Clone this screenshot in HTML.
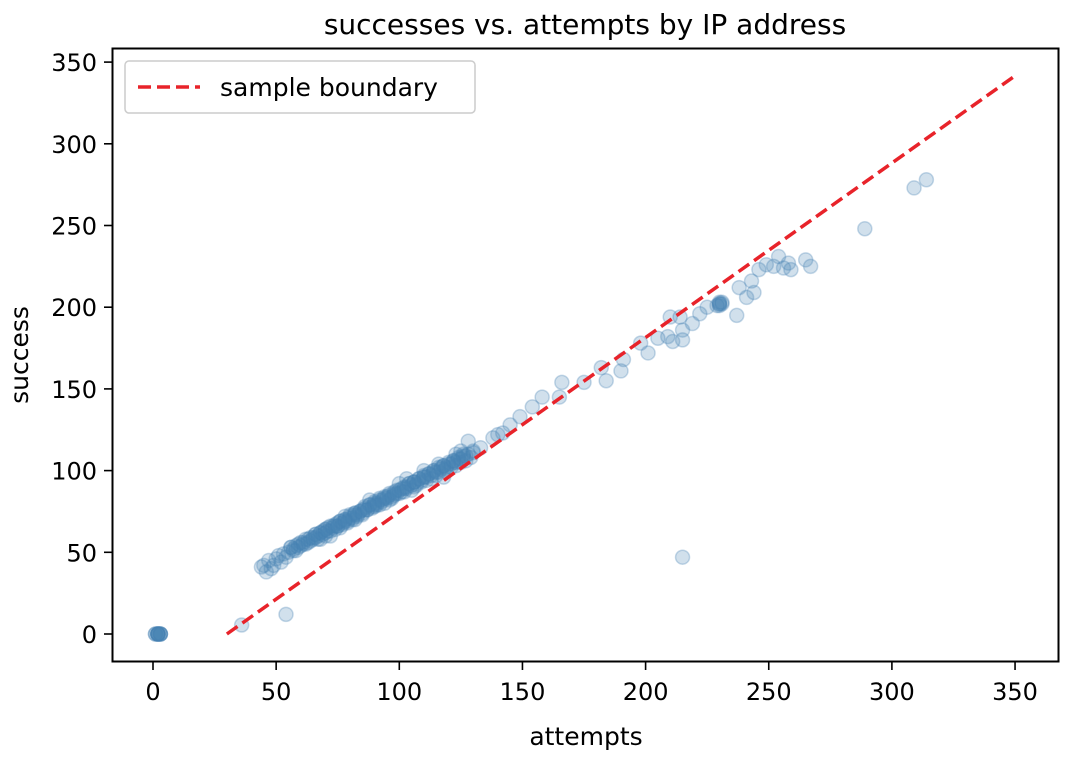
<!DOCTYPE html>
<html><head><meta charset="utf-8"><style>
body{margin:0;background:#fff;}
svg{display:block;font-family:"DejaVu Sans","Liberation Sans",sans-serif;}
</style></head><body>
<svg id="chart" width="1068" height="760">
<text x="585" y="34" font-size="28" text-anchor="middle" fill="#000">successes vs. attempts by IP address</text>
<g id="points"></g>
<g id="line"></g>
<rect x="112.5" y="48.5" width="946" height="613" fill="none" stroke="#000" stroke-width="2"/>
<g id="xt"></g><g id="yt"></g>
<text x="586" y="745" font-size="25" text-anchor="middle">attempts</text>
<text transform="translate(28,355) rotate(-90)" font-size="25" text-anchor="middle">success</text>
<g>
<rect x="125" y="61" width="350" height="52" rx="4" fill="#fff" fill-opacity="0.8" stroke="#ccc" stroke-width="1.5"/>
<line x1="138" y1="87" x2="200" y2="87" stroke="#e8232a" stroke-width="3.5" stroke-dasharray="13,6"/>
<text x="220" y="96" font-size="25">sample boundary</text>
</g>
</svg>
<script>
const xTicks=[0,50,100,150,200,250,300,350];
const yTicks=[0,50,100,150,200,250,300,350];
const boundaryX=[30,350];
const boundaryY=[0,341.6];
const attempts=[1,2,3,2,3,1,2,3,2,3,2,2,36,54,215,289,309,314,
45,47,48,50,51,52,53,55,56,57,58,60,61,62,63,64,65,66,67,68,69,70,70,71,72,73,74,75,75,76,77,78,78,79,80,80,81,82,83,84,85,85,86,87,88,89,90,90,91,92,93,94,95,96,97,98,99,100,101,102,103,104,105,106,107,108,109,110,111,112,113,114,115,116,117,118,119,120,121,122,123,124,125,126,127,128,129,130,128,125,123,68,72,59,54,88,92,100,103,96,116,118,110,106,76,82,46,44,49,
56,58,60,62,64,66,68,70,72,74,76,78,80,82,84,86,88,90,92,94,96,98,100,102,104,106,108,110,112,114,116,118,120,122,124,126,
57,59,61,63,65,67,69,71,73,75,77,79,81,83,85,87,89,91,93,95,97,99,101,103,105,107,109,111,113,115,117,119,121,123,125,127,
66,70,74,78,82,86,90,94,98,102,106,110,114,118,122,126,
142,138,145,133,140,130,149,158,154,
166,165,175,182,184,190,191,198,201,205,209,210,211,214,215,215,219,222,225,230,230,230,230,231,231,229,237,238,241,244,243,246,249,252,254,256,258,259,265,267];
const success=[0,0,0,0,0,0,0,0,0,0,0,0,5.5,12,47,248,273,278,
42,45,40,46,48,44,49,50,53,52,51,54,56,55,58,57,59,61,58,62,63,60,64,65,63,66,64,68,66,69,67,70,72,68,71,73,70,74,72,75,76,73,78,76,79,77,81,78,80,83,82,80,84,86,83,85,88,86,89,87,90,92,88,93,91,95,93,96,94,98,95,100,97,99,102,100,101,104,102,105,103,107,105,108,106,110,108,112,118,112,110,58,60,55,47,82,79,92,95,82,104,96,100,90,65,70,38,41,42,
53,54,56,58,59,61,62,64,66,67,69,70,72,74,75,77,79,80,82,84,85,87,88,90,92,93,95,97,98,100,102,103,105,106,108,110,
51,53,55,56,58,60,61,63,65,66,68,69,71,73,74,76,78,79,81,83,84,86,87,89,91,92,94,96,97,99,101,102,104,105,107,109,
59,62,66,69,73,76,79,83,86,89,93,96,99,103,106,109,
123,120,128,114,122,111,133,145,139,
154,145,154,163,155,161,168,178,172,181,182,194,179,194,186,180,190,196,200,202,202,201,203,203,202,201,195,212,206,209,216,223,226,225,231,224,227,223,229,225];
const X=v=>153+v*2.463, Y=v=>634-v*1.634;
const NS='http://www.w3.org/2000/svg';
const pts=document.getElementById('points');
for(let i=0;i<attempts.length;i++){
  const c=document.createElementNS(NS,'circle');
  c.setAttribute('cx',X(attempts[i]));c.setAttribute('cy',Y(success[i]));c.setAttribute('r',7);
  c.setAttribute('fill','rgba(70,130,180,0.25)');c.setAttribute('stroke','rgba(70,130,180,0.3)');c.setAttribute('stroke-width','1.5');
  
  
  pts.appendChild(c);
}
const ln=document.createElementNS(NS,'line');
ln.setAttribute('x1',X(boundaryX[0]));ln.setAttribute('y1',Y(boundaryY[0]));
ln.setAttribute('x2',X(boundaryX[1]));ln.setAttribute('y2',Y(boundaryY[1]));
ln.setAttribute('stroke','#e8232a');ln.setAttribute('stroke-width','3.5');ln.setAttribute('stroke-dasharray','13,6');


document.getElementById('line').appendChild(ln);
const xt=document.getElementById('xt');
xTicks.forEach(v=>{
  const l=document.createElementNS(NS,'line');
  l.setAttribute('x1',X(v));l.setAttribute('x2',X(v));l.setAttribute('y1',662);l.setAttribute('y2',670);l.setAttribute('stroke','#000');l.setAttribute('stroke-width','1.6');
  
  
  xt.appendChild(l);
  const t=document.createElementNS(NS,'text');
  t.setAttribute('x',X(v));t.setAttribute('y',700);t.setAttribute('font-size','24');t.setAttribute('text-anchor','middle');t.textContent=v;
  
  
  xt.appendChild(t);
});
const yt=document.getElementById('yt');
yTicks.forEach(v=>{
  const l=document.createElementNS(NS,'line');
  l.setAttribute('x1',104);l.setAttribute('x2',112);l.setAttribute('y1',Y(v));l.setAttribute('y2',Y(v));l.setAttribute('stroke','#000');l.setAttribute('stroke-width','1.6');
  
  
  yt.appendChild(l);
  const t=document.createElementNS(NS,'text');
  t.setAttribute('x',97);t.setAttribute('y',Y(v)+9);t.setAttribute('font-size','24');t.setAttribute('text-anchor','end');t.textContent=v;
  
  
  yt.appendChild(t);
});
</script>
</body></html>
